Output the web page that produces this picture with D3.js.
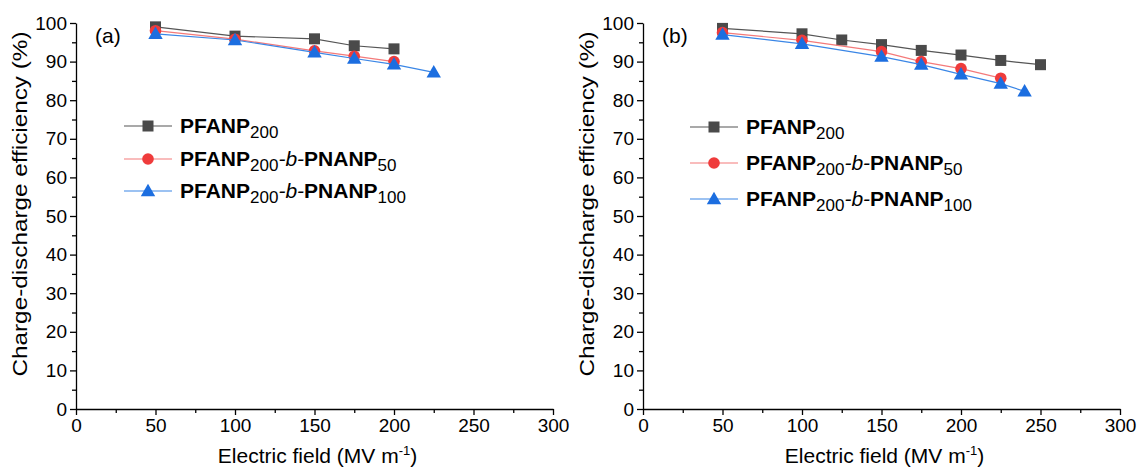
<!DOCTYPE html>
<html>
<head>
<meta charset="utf-8">
<script src="https://cdn.jsdelivr.net/npm/d3@7"></script>
<style>
  body { margin: 0; background: #fff; }
  svg { font-family: Arial, "Liberation Sans", sans-serif; }
  .axis path, .axis line { stroke: #000; stroke-width: 1.3; }
  .axis text { font-size: 19px; fill: #000; font-family: Arial, "Liberation Sans", sans-serif; }
</style>
</head>
<body>
<div id="chart"></div>
<script>
// tick labels
const xTicks = [0, 50, 100, 150, 200, 250, 300];
const yTicks = [0, 10, 20, 30, 40, 50, 60, 70, 80, 90, 100];

// panel (a)
const aFieldPfanp = [50, 100, 150, 175, 200];
const aEffPfanp = [99.0, 96.6, 95.9, 94.1, 93.3];
const aFieldB50 = [50, 100, 150, 175, 200];
const aEffB50 = [98.0, 95.8, 92.8, 91.4, 90.0];
const aFieldB100 = [50, 100, 150, 175, 200, 225];
const aEffB100 = [97.2, 95.6, 92.4, 90.8, 89.3, 87.2];

// panel (b)
const bFieldPfanp = [50, 100, 125, 150, 175, 200, 225, 250];
const bEffPfanp = [98.6, 97.2, 95.6, 94.4, 92.9, 91.7, 90.3, 89.2];
const bFieldB50 = [50, 100, 150, 175, 200, 225];
const bEffB50 = [97.5, 95.5, 92.6, 90.0, 88.2, 85.7];
const bFieldB100 = [50, 100, 150, 175, 200, 225, 240];
const bEffB100 = [97.0, 94.6, 91.3, 89.2, 86.7, 84.3, 82.3];

const seriesStyle = [
    {line: '#555555', fill: '#4a4a4a', shape: 'square'},
    {line: '#f47a7a', fill: '#ef3b3b', shape: 'circle'},
    {line: '#3a86e6', fill: '#1c6ee0', shape: 'triangle'}
];

function zip(xs, ys) {
    return xs.map((x, i) => ({x: x, y: ys[i]}));
}

const svg = d3.select('#chart').append('svg')
    .attr('width', 1140)
    .attr('height', 468);

function drawMarker(g, shape, fill, cx, cy) {
    if (shape === 'square') {
        g.append('rect')
            .attr('x', cx - 5.5).attr('y', cy - 5.5)
            .attr('width', 11).attr('height', 11)
            .attr('fill', fill);
    } else if (shape === 'circle') {
        g.append('circle')
            .attr('cx', cx).attr('cy', cy).attr('r', 5.8)
            .attr('fill', fill);
    } else {
        g.append('path')
            .attr('d', d3.symbol(d3.symbolTriangle, 90)())
            .attr('transform', `translate(${cx},${cy + 1})`)
            .attr('fill', fill);
    }
}

function legendLabel(text, parts) {
    // parts: [string, style]; b bold, s subscript, i italic (back on baseline)
    parts.forEach(function(p) {
        const t = text.append('tspan').text(p[0]);
        if (p[1] === 'b') {
            t.attr('font-weight', 'bold').attr('font-size', 21);
        } else if (p[1] === 's') {
            t.attr('font-size', 17).attr('dy', 5);
        } else if (p[1] === 'i') {
            t.attr('font-style', 'italic').attr('font-size', 21).attr('dy', -5);
        }
    });
}

function showPanel(opts) {
    const x = d3.scaleLinear().domain([0, 300]).range([opts.left, opts.right]);
    const y = d3.scaleLinear().domain([0, 100]).range([409, 23]);
    const g = svg.append('g');

    // minor ticks
    g.append('g').attr('class', 'axis')
        .attr('transform', 'translate(0,409)')
        .call(d3.axisBottom(x).tickValues(d3.range(25, 300, 50)).tickSize(4).tickFormat(''))
        .select('.domain').remove();
    g.append('g').attr('class', 'axis')
        .attr('transform', `translate(${opts.left},0)`)
        .call(d3.axisLeft(y).tickValues(d3.range(5, 100, 10)).tickSize(4).tickFormat(''))
        .select('.domain').remove();

    // major axes
    g.append('g').attr('class', 'axis')
        .attr('transform', 'translate(0,409)')
        .call(d3.axisBottom(x).tickValues(xTicks).tickSize(6).tickSizeOuter(0).tickPadding(4));
    g.append('g').attr('class', 'axis')
        .attr('transform', `translate(${opts.left},0)`)
        .call(d3.axisLeft(y).tickValues(yTicks).tickSize(6).tickSizeOuter(0).tickPadding(3));

    // axis titles
    const xt = g.append('text')
        .attr('x', (opts.left + opts.right) / 2 + 3)
        .attr('y', 463)
        .attr('text-anchor', 'middle')
        .attr('font-size', 21);
    xt.append('tspan').text('Electric field (MV m');
    xt.append('tspan').attr('font-size', 13).attr('dy', -8).text('-1');
    xt.append('tspan').attr('dy', 8).text(')');

    g.append('text')
        .attr('transform', `translate(${opts.left - 49},204) rotate(-90)`)
        .attr('text-anchor', 'middle')
        .attr('font-size', 20)
        .attr('textLength', 345)
        .attr('lengthAdjust', 'spacingAndGlyphs')
        .text('Charge-discharge efficiency (%)');

    g.append('text')
        .attr('x', opts.left + 19)
        .attr('y', 43)
        .attr('font-size', 21)
        .text(opts.label);

    // series
    const line = d3.line().x(d => x(d.x)).y(d => y(d.y));
    opts.series.forEach(function(s, i) {
        const st = seriesStyle[i];
        g.append('path')
            .datum(s)
            .attr('d', line)
            .attr('fill', 'none')
            .attr('stroke', st.line)
            .attr('stroke-width', 1.2);
        s.forEach(d => drawMarker(g, st.shape, st.fill, x(d.x), y(d.y)));
    });

    // legend
    const names = [
        [['PFANP', 'b'], ['200', 's']],
        [['PFANP', 'b'], ['200', 's'], ['-b-', 'i'], ['PNANP', 'b'], ['50', 's']],
        [['PFANP', 'b'], ['200', 's'], ['-b-', 'i'], ['PNANP', 'b'], ['100', 's']]
    ];
    names.forEach(function(n, i) {
        const st = seriesStyle[i];
        const ly = opts.legendY[i];
        g.append('line')
            .attr('x1', opts.legendX).attr('x2', opts.legendX + 48)
            .attr('y1', ly).attr('y2', ly)
            .attr('stroke', st.line).attr('stroke-width', 1.2);
        drawMarker(g, st.shape, st.fill, opts.legendX + 24, ly);
        const t = g.append('text')
            .attr('x', opts.legendX + 56)
            .attr('y', ly + 7);
        legendLabel(t, n);
    });
}

showPanel({
    left: 76, right: 553, label: '(a)',
    legendX: 124, legendY: [126, 159, 191],
    series: [zip(aFieldPfanp, aEffPfanp), zip(aFieldB50, aEffB50), zip(aFieldB100, aEffB100)]
});
showPanel({
    left: 643, right: 1120, label: '(b)',
    legendX: 690, legendY: [127, 163, 199],
    series: [zip(bFieldPfanp, bEffPfanp), zip(bFieldB50, bEffB50), zip(bFieldB100, bEffB100)]
});
</script>
</body>
</html>
